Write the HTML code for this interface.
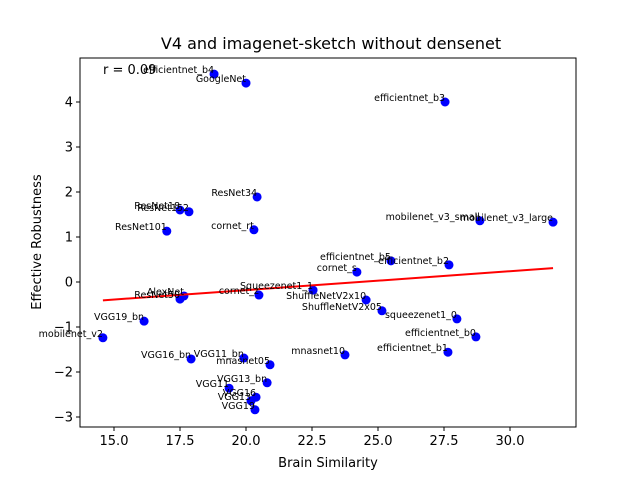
<!DOCTYPE html>
<html><head><meta charset="utf-8"><style>
body{margin:0;background:#fff;font-family:"Liberation Sans","DejaVu Sans",sans-serif}
</style></head><body>
<svg id="c" width="640" height="480" xmlns="http://www.w3.org/2000/svg" font-family="DejaVu Sans, Liberation Sans, sans-serif"></svg>
<script>
const names=["efficientnet_b4","GoogleNet","efficientnet_b3","ResNet34","ResNet18","ResNet152","ResNet101","cornet_rt","mobilenet_v3_small","mobilenet_v3_large","efficientnet_b5","efficientnet_b2","cornet_s","Squeezenet1_1","ShuffleNetV2x10","ShuffleNetV2x05","squeezenet1_0","efficientnet_b0","efficientnet_b1","mnasnet10","AlexNet","ResNet50","cornet_z","VGG19_bn","mobilenet_v2","VGG16_bn","VGG11_bn","mnasnet05","VGG13_bn","VGG11","VGG16","VGG13","VGG19"];
const xs=[18.79,20.0,27.54,20.42,17.5,17.84,17.0,20.3,28.86,31.63,25.49,27.69,24.2,22.54,24.55,25.15,27.99,28.71,27.65,23.75,17.65,17.5,20.49,16.14,14.58,17.92,19.92,20.91,20.8,19.36,20.38,20.19,20.34];
const ys=[4.62,4.42,4.0,1.89,1.6,1.56,1.13,1.16,1.36,1.33,0.47,0.38,0.22,-0.18,-0.4,-0.64,-0.82,-1.22,-1.56,-1.62,-0.31,-0.38,-0.29,-0.87,-1.24,-1.71,-1.69,-1.84,-2.24,-2.36,-2.56,-2.64,-2.84];
const xticks=[15,17.5,20,22.5,25,27.5,30];
const xtickLabels=["15.0","17.5","20.0","22.5","25.0","27.5","30.0"];
const yticks=[-3,-2,-1,0,1,2,3,4];
const ytickLabels=["−3","−2","−1","0","1","2","3","4"];
const rText="r = 0.09";
const L=80,R=576,T=58,B=427;
const X=v=>114+(v-15)*26.4;
const Y=v=>282-v*45;
const svg=document.getElementById('c');
const NS="http://www.w3.org/2000/svg";
function mk(tag,attrs,parent){const e=document.createElementNS(NS,tag);for(const k in attrs)e.setAttribute(k,attrs[k]);(parent||svg).appendChild(e);return e;}
let t=mk('text',{x:331,y:49,'text-anchor':'middle','font-size':16});t.textContent="V4 and imagenet-sketch without densenet";


// points
const g=mk('g',{});


for(let i=0;i<xs.length;i++){
 const c=mk('circle',{cx:X(xs[i]),cy:Y(ys[i]),r:4.5,fill:'#0000ff'},g);
 
 
}
// regression
const n=xs.length;const mx=xs.reduce((a,b)=>a+b)/n,my=ys.reduce((a,b)=>a+b)/n;
let sxy=0,sxx=0;for(let i=0;i<n;i++){sxy+=(xs[i]-mx)*(ys[i]-my);sxx+=(xs[i]-mx)**2;}
const sl=sxy/sxx,ic=my-sl*mx;const x0=Math.min(...xs),x1=Math.max(...xs);
const ln=mk('line',{x1:X(x0),y1:Y(ic+sl*x0),x2:X(x1),y2:Y(ic+sl*x1),stroke:'#ff0000','stroke-width':2});


// labels
const lg=mk('g',{'font-size':9.5,'text-anchor':'end'});


for(let i=0;i<xs.length;i++){
 const tx=mk('text',{x:X(xs[i]),y:Y(ys[i])-1},lg);tx.textContent=names[i];
 
 
}
// frame
const fr=mk('rect',{x:L,y:T,width:R-L,height:B-T,fill:'none',stroke:'#000','stroke-width':1});


xticks.forEach((v,i)=>{mk('line',{x1:X(v),x2:X(v),y1:B,y2:B+4,stroke:'#000'});
 const e=mk('text',{x:X(v),y:B+18,'text-anchor':'middle','font-size':13});e.textContent=xtickLabels[i];
 
 });
yticks.forEach((v,i)=>{mk('line',{x1:L-4,x2:L,y1:Y(v),y2:Y(v),stroke:'#000'});
 const e=mk('text',{x:L-7,y:Y(v)+4.5,'text-anchor':'end','font-size':13});e.textContent=ytickLabels[i];
 
 });
let xl=mk('text',{x:328,y:467,'text-anchor':'middle','font-size':13});xl.textContent="Brain Similarity";


let yl=mk('text',{x:41,y:242,'text-anchor':'middle','font-size':13,transform:'rotate(-90 41 242)'});yl.textContent="Effective Robustness";


let rt=mk('text',{x:103,y:74,'font-size':13});rt.textContent=rText;


</script>
</body></html>
